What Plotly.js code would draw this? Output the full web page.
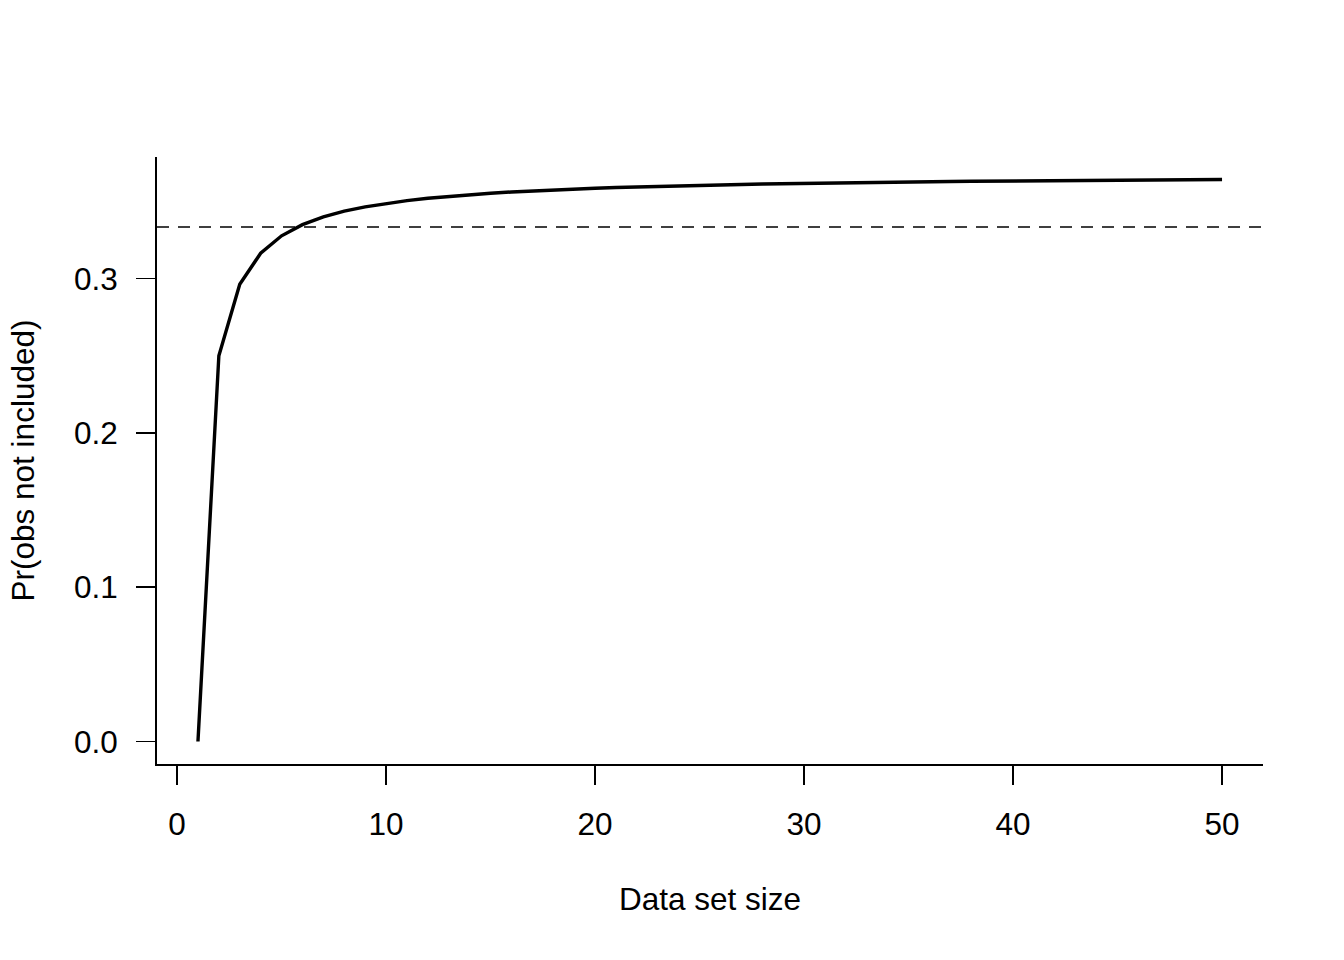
<!DOCTYPE html>
<html>
<head>
<meta charset="utf-8">
<script src="https://cdn.plot.ly/plotly-3.0.1.min.js"></script>
<style>html,body{margin:0;padding:0;background:#fff;}#chart{width:1344px;height:960px;}</style>
</head>
<body>
<div id="chart"></div>
<script>
const dataSetSize = [1,2,3,4,5,6,7,8,9,10,11,12,13,14,15,16,17,18,19,20,21,22,23,24,25,26,27,28,29,30,31,32,33,34,35,36,37,38,39,40,41,42,43,44,45,46,47,48,49,50];
const probNotIncluded = [0,0.25,0.296296,0.316406,0.32768,0.334898,0.339917,0.343609,0.346439,0.348678,
  0.350494,0.351996,0.353259,0.354336,0.355265,0.356075,0.356786,0.357417,0.357980,0.358486,
  0.358943,0.359357,0.359734,0.360079,0.360397,0.360689,0.360960,0.361210,0.361444,0.361662,
  0.361865,0.362056,0.362234,0.362402,0.362561,0.362710,0.362852,0.362986,0.363112,0.363233,
  0.363347,0.363456,0.363560,0.363659,0.363754,0.363845,0.363931,0.364014,0.364093,0.364170];
const referenceLevel = 0.3333333;
const xTickVals = [0,10,20,30,40,50];
const yTickVals = [0,0.1,0.2,0.3];
const yTickText = ["0.0","0.1","0.2","0.3"];

const FONT = "Liberation Sans, Arial, Helvetica, sans-serif";
const FS = 31.5;

const trace = {
  x: dataSetSize, y: probNotIncluded, type: 'scatter', mode: 'lines',
  line: {color: '#000', width: 3.4}, hoverinfo: 'none'
};

const layout = {
  width: 1344, height: 960,
  margin: {l: 157, r: 81, t: 157, b: 196, pad: 0},
  paper_bgcolor: '#fff', plot_bgcolor: '#fff',
  showlegend: false,
  font: {family: FONT, size: FS, color: '#000'},
  xaxis: {
    range: [-0.96, 51.96], showgrid: false, zeroline: false,
    showline: true, linecolor: '#000', linewidth: 1.8, mirror: false,
    ticks: 'outside', ticklen: 19, tickwidth: 1.5, tickcolor: '#000',
    ticklabelstandoff: 12,
    tickvals: xTickVals, ticktext: xTickVals.map(String),
    tickfont: {family: FONT, size: FS, color: '#000'},
    title: {text: 'Data set size', font: {family: FONT, size: FS, color: '#000'}, standoff: 47}
  },
  yaxis: {
    range: [-0.014567, 0.378737], showgrid: false, zeroline: false,
    showline: true, linecolor: '#000', linewidth: 1.8, mirror: false,
    ticks: 'outside', ticklen: 19, tickwidth: 1.5, tickcolor: '#000',
    ticklabelstandoff: 12,
    tickvals: yTickVals, ticktext: yTickText,
    tickfont: {family: FONT, size: FS, color: '#000'},
    title: {text: 'Pr(obs not included)', font: {family: FONT, size: FS, color: '#000'}, standoff: 30}
  },
  shapes: [{
    type: 'line', xref: 'paper', x0: 0, x1: 1, yref: 'y', y0: referenceLevel, y1: referenceLevel,
    line: {color: '#000', width: 1.5, dash: '12px,9px'}
  }]
};

Plotly.newPlot('chart', [trace], layout, {displayModeBar: false, staticPlot: true});
</script>
</body>
</html>
